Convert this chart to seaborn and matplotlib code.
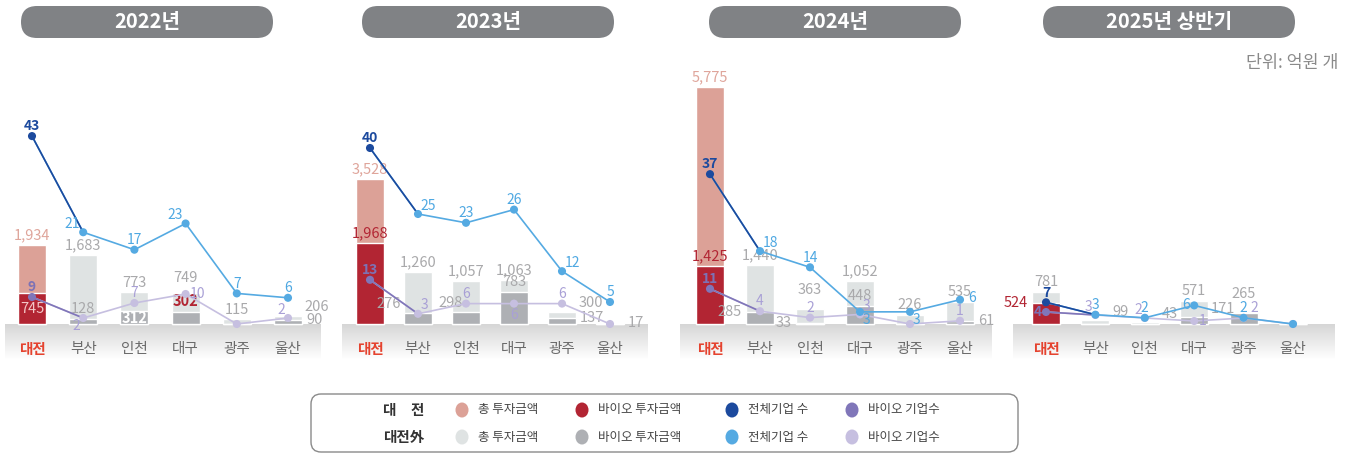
import numpy as np
import matplotlib
matplotlib.use('Agg')
import matplotlib.pyplot as plt
from matplotlib.patches import FancyBboxPatch, Ellipse
from matplotlib.colors import LinearSegmentedColormap
import seaborn as sns

cities = ['대전', '부산', '인천', '대구', '광주', '울산']
years = ['2022년', '2023년', '2024년', '2025년 상반기']

# 투자금액 (억원)
total_inv_2022 = [1934, 1683, 773, 749, 115, 206]
total_inv_2023 = [3528, 1260, 1057, 1063, 300, 17]
total_inv_2024 = [5775, 1440, 363, 1052, 226, 535]
total_inv_2025 = [781, 99, 43, 571, 265, 0]
bio_inv_2022 = [745, 128, 312, 302, 0, 90]
bio_inv_2023 = [1968, 276, 298, 783, 137, 0]
bio_inv_2024 = [1425, 285, 33, 448, 0, 61]
bio_inv_2025 = [524, 0, 0, 171, 265, 0]

# 기업 수 (개)
firms_2022 = [43, 21, 17, 23, 7, 6]
firms_2023 = [40, 25, 23, 26, 12, 5]
firms_2024 = [37, 18, 14, 3, 3, 6]
firms_2025 = [7, 3, 2, 6, 2, 0]
bio_firms_2022 = [9, 2, 7, 10, 0, 2]
bio_firms_2023 = [13, 3, 6, 6, 6, 0]
bio_firms_2024 = [11, 4, 2, 3, 0, 1]
bio_firms_2025 = [4, 3, 2, 1, 2, 0]

TOTAL_INV = [total_inv_2022, total_inv_2023, total_inv_2024, total_inv_2025]
BIO_INV = [bio_inv_2022, bio_inv_2023, bio_inv_2024, bio_inv_2025]
FIRMS = [firms_2022, firms_2023, firms_2024, firms_2025]
BIO_FIRMS = [bio_firms_2022, bio_firms_2023, bio_firms_2024, bio_firms_2025]

# colours: 대전 / 대전外
DJ = {'total': '#dca197', 'bio': '#b22533', 'firms': '#1c4a9e', 'bio_firms': '#8076b9'}
ETC = {'total': '#dfe3e3', 'bio': '#aeb0b4', 'firms': '#55aae2', 'bio_firms': '#c6bfe0'}
LBL_DJ = {'total': '#dfa59b', 'bio': '#b22533', 'firms': '#1c4a9e', 'bio_firms': '#7d72b5'}
LBL_ETC = {'total': '#a9a9ab', 'bio': '#a9a9ab', 'firms': '#4ea8e2', 'bio_firms': '#a9a0d6'}

# layout in pixels (band edges, first/last city centre, px per firm, pill centre)
PANELS = [
    {'band': (5, 321), 'centers': (32, 288), 'k': 4.37, 'kb': 3.0, 'pill': 147},
    {'band': (342, 648), 'centers': (370, 610), 'k': 4.4, 'kb': 3.4, 'pill': 488},
    {'band': (680, 992), 'centers': (710, 960), 'k': 4.05, 'kb': 3.2, 'pill': 835},
    {'band': (1013, 1335), 'centers': (1046, 1293), 'k': 3.1, 'kb': 3.0, 'pill': 1169},
]
BAR_K = 0.041          # px per 억원
BASE_Y, TOP_Y, BOT_Y = 324, 70, 372
GRAY_DJ_TOTAL = {3}    # 2025 상반기: 대전 총 투자금액 막대는 회색

# label placement overrides (default: above)
TOTAL_POS = [{3: 'n1', 5: 'ne'}, {4: 'ne', 5: 'e'}, {2: 'n2'}, {1: 'ne', 2: 'ne', 4: 'n2'}]
BIO_POS = [{0: 'mid', 2: 'mid', 5: 'e'}, {1: 'nw', 2: 'nwc', 4: 'e'},
           {1: 'w', 2: 'w', 5: 'e'}, {0: 'w', 3: 'ne'}]
FIRM_POS = [{1: 'nw', 3: 'nw'}, {1: 'ne', 4: 'ne'}, {1: 'ne', 3: 'se', 4: 'se', 5: 'e2'}, {3: 'w'}]
BIO_FIRM_POS = [{1: 'sw', 3: 'e', 5: 'nw'}, {1: 'ne', 3: 's'}, {3: 'ne'},
                {0: 'w', 1: 'nw', 2: 'nw', 3: 'e', 4: 'ne2'}]
HIGHLIGHT = {(0, 3)}   # 2022 대구 바이오 투자금액

OFF = {'n': (0, 2, 'center', 'bottom'), 'n1': (0, 6, 'center', 'bottom'),
       'n2': (0, 9, 'center', 'bottom'),
       's': (0, -3, 'center', 'top'),
       'e': (3, 0, 'left', 'center'), 'w': (-3, 0, 'right', 'center'),
       'e2': (6, 1, 'left', 'center'),
       'ne': (2, 1, 'left', 'bottom'), 'nw': (-2, 1, 'right', 'bottom'),
       'nwc': (-1, 1, 'center', 'bottom'),
       'ne2': (5, 2, 'left', 'bottom'),
       'se': (2, -1, 'left', 'top'), 'sw': (-2, -1, 'right', 'top'),
       'mid': (0, 0, 'center', 'center')}

sns.set_theme(style='white')
plt.rcParams['font.family'] = ['Noto Sans CJK KR', 'DejaVu Sans']
plt.rcParams['axes.unicode_minus'] = False

W, H = 1353, 454
fig = plt.figure(figsize=(W / 100, H / 100), dpi=100)

over = fig.add_axes([0, 0, 1, 1], zorder=0)
over.set_xlim(0, W)
over.set_ylim(H, 0)
over.axis('off')

band_cmap = LinearSegmentedColormap.from_list(
    'band', [(0, '#d6d6d6'), (0.75, '#ffffff'), (1, '#ffffff')])
xs = np.arange(len(cities))


def put(ax, x, y, txt, code, color, size, weight='normal'):
    dx, dy, ha, va = OFF[code]
    ax.annotate(txt, (x, y), xytext=(dx, dy), textcoords='offset points',
                ha=ha, va=va, fontsize=size, color=color, fontweight=weight, zorder=6)


def anchor_x(i, code, bw):
    if code in ('e', 'ne', 'e2'):
        return i + bw / 2
    if code in ('w', 'nw', 'nwc'):
        return i - bw / 2
    return i


for p, (year, lay) in enumerate(zip(years, PANELS)):
    b0, b1 = lay['band']
    c0, c1 = lay['centers']
    s = (c1 - c0) / 5
    xlo, xhi = -(c0 - b0) / s, 5 + (b1 - c1) / s
    bw = 28 / s
    ylo, yhi = -(BOT_Y - BASE_Y) / BAR_K, (BASE_Y - TOP_Y) / BAR_K

    ax = fig.add_axes([b0 / W, (H - BOT_Y) / H, (b1 - b0) / W, (BOT_Y - TOP_Y) / H], zorder=2)
    ax.patch.set_alpha(0)

    # grey band under the baseline, fading to white
    n_strips = 48
    for j in range(n_strips):
        y_top = ylo * j / n_strips
        y_bot = ylo * (j + 1) / n_strips
        ax.axhspan(y_bot, y_top, color=band_cmap(j / (n_strips - 1)), lw=0, zorder=0)

    tot_pal = [ETC['total'] if p in GRAY_DJ_TOTAL else DJ['total']] + [ETC['total']] * 5
    sns.barplot(x=cities, y=TOTAL_INV[p], hue=cities, palette=tot_pal,
                width=bw, saturation=1, legend=False, ax=ax, zorder=1)
    sns.barplot(x=cities, y=BIO_INV[p], hue=cities, palette=[DJ['bio']] + [ETC['bio']] * 5,
                width=bw, saturation=1, legend=False, ax=ax, zorder=1)

    for i, city in enumerate(cities):
        dj = i == 0
        ax.text(i, -25 / BAR_K, city, ha='center', va='center', fontsize=10.5,
                color='#e5432f' if dj else '#6a6a6a', fontweight='bold' if dj else 'medium')
        t, b = TOTAL_INV[p][i], BIO_INV[p][i]
        if t:
            code = TOTAL_POS[p].get(i, 'n')
            col = LBL_DJ['total'] if dj and p not in GRAY_DJ_TOTAL else LBL_ETC['total']
            put(ax, anchor_x(i, code, bw), t, f'{t:,}', code, col, 10.5)
        if b and b != t:
            code = BIO_POS[p].get(i, 'n')
            col = LBL_DJ['bio'] if dj else LBL_ETC['bio']
            wt = 'normal'
            yb = b
            if code == 'mid':
                yb = b / 2
                col, wt = ('#f3c6c6', 'normal') if dj else ('white', 'bold')
            if (p, i) in HIGHLIGHT:
                col, wt = DJ['bio'], 'bold'
            put(ax, anchor_x(i, code, bw), yb, f'{b:,}', code, col, 10.5, wt)

    # bio firms axis first so the total-firms line sits on top
    ax3 = ax.twinx()
    ax2 = ax.twinx()
    for axc, vals, key, pos, kk in [(ax3, BIO_FIRMS[p], 'bio_firms', BIO_FIRM_POS[p], lay['kb']),
                                    (ax2, FIRMS[p], 'firms', FIRM_POS[p], lay['k'])]:
        axc.patch.set_alpha(0)
        sns.lineplot(x=xs, y=vals, color=ETC[key], lw=1.2, ax=axc)
        sns.lineplot(x=xs[:2], y=vals[:2], color=DJ[key], lw=1.2, ax=axc)
        sns.scatterplot(x=xs, y=vals, hue=cities, palette=[DJ[key]] + [ETC[key]] * 5,
                        s=34, edgecolor='none', legend=False, ax=axc, zorder=3)
        for i, v in enumerate(vals):
            if v:
                dj = i == 0
                put(axc, i, v, str(v), pos.get(i, 'n'),
                    LBL_DJ[key] if dj else LBL_ETC[key], 10, 'bold' if dj else 'medium')
        axc.set_ylim(-(BOT_Y - BASE_Y) / kk, (BASE_Y - TOP_Y) / kk)
        axc.set_xlim(xlo, xhi)
        axc.axis('off')

    ax.set_ylim(ylo, yhi)
    ax.set_xlim(xlo, xhi)
    ax.axis('off')

    # year pill
    pc = lay['pill']
    over.add_patch(FancyBboxPatch((pc - 126, 6), 252, 32, boxstyle='round,pad=0,rounding_size=16',
                                  fc='#808285', ec='none'))
    over.text(pc, 22, year, ha='center', va='center', fontsize=14.5, fontweight='bold', color='white')

over.text(1338, 63, '단위: 억원 개', ha='right', va='center', fontsize=12.5, color='#8a8a8a',
          fontweight='medium')

# legend box
over.add_patch(FancyBboxPatch((311, 394), 707, 58, boxstyle='round,pad=0,rounding_size=10',
                              fc='white', ec='#8a8a8a', lw=1))
keys = ['total', 'bio', 'firms', 'bio_firms']
names = ['총 투자금액', '바이오 투자금액', '전체기업 수', '바이오 기업수']
mx = [462, 582, 732, 852]
for row_y, row_name, cols in [(410, '대\u3000전', DJ), (437, '대전外', ETC)]:
    over.text(404, row_y, row_name, ha='center', va='center', fontsize=10.5,
              fontweight='bold', color='#333333')
    for x, key, name in zip(mx, keys, names):
        over.add_patch(Ellipse((x, row_y), 13, 15, fc=cols[key], ec='none'))
        over.text(x + 16, row_y, name, ha='left', va='center', fontsize=9, color='#444444')

fig.savefig('out.png', dpi=100)
